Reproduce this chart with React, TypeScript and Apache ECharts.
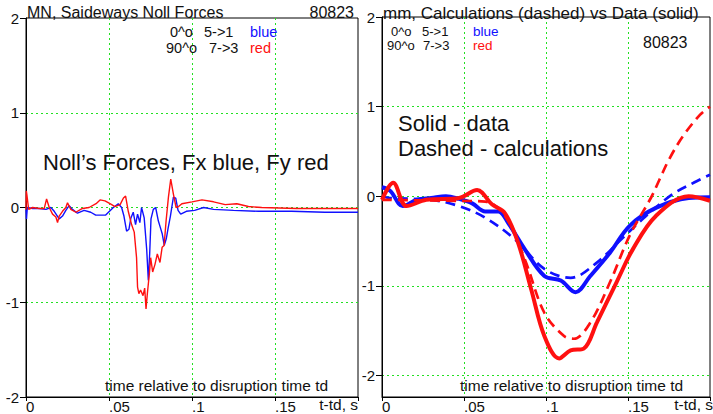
import React, { useEffect, useRef } from "react";
import * as echarts from "echarts";

// ---- ticks ----
const xTicks = [0, 0.05, 0.1, 0.15];
const xTickLabels = ["0", ".05", ".1", ".15"];
const yTicks = [-2, -1, 0, 1, 2];
const yTickLabels = ["-2", "-1", "0", "1", "2"];

// ---- left panel: Noll forces (MN) ----
const leftBlueT = [0, 0.0003, 0.0008, 0.004, 0.008, 0.012, 0.015, 0.017, 0.02, 0.022, 0.024, 0.026, 0.028, 0.031, 0.035, 0.039, 0.042, 0.045, 0.048, 0.0526, 0.0556, 0.0576, 0.059, 0.0606, 0.062, 0.0632, 0.0646, 0.066, 0.0672, 0.0686, 0.0696, 0.0712, 0.0727, 0.0737, 0.0745, 0.0753, 0.0767, 0.0781, 0.0797, 0.0809, 0.0821, 0.0833, 0.0845, 0.0857, 0.087, 0.0888, 0.0902, 0.0916, 0.0932, 0.0966, 0.1016, 0.107, 0.113, 0.125, 0.14, 0.16, 0.18, 0.2];
const leftBlueV = [-0.02, -0.12, 0.0, -0.01, -0.01, -0.02, 0.0, -0.04, -0.12, -0.09, -0.03, 0.02, -0.02, -0.06, -0.03, -0.05, -0.08, -0.08, -0.08, 0.0, 0.04, 0.0, -0.09, -0.25, -0.23, -0.11, -0.05, -0.18, -0.07, -0.16, 0.0, -0.11, -0.44, -0.77, -0.49, -0.12, -0.02, 0.0, -0.14, -0.21, -0.28, -0.4, -0.33, -0.21, -0.09, 0.11, 0.1, -0.03, -0.07, -0.04, -0.03, 0.0, -0.02, -0.03, -0.04, -0.04, -0.05, -0.05];
const leftRedT = [0, 0.0002, 0.0005, 0.0016, 0.004, 0.008, 0.011, 0.0124, 0.014, 0.016, 0.018, 0.019, 0.02, 0.022, 0.024, 0.025, 0.027, 0.03, 0.034, 0.038, 0.0422, 0.0446, 0.0476, 0.0506, 0.0536, 0.0567, 0.0587, 0.06, 0.0616, 0.0636, 0.0652, 0.0666, 0.0672, 0.068, 0.069, 0.0705, 0.0715, 0.0723, 0.0731, 0.0743, 0.0751, 0.0763, 0.0777, 0.0791, 0.0807, 0.082, 0.0832, 0.0844, 0.0858, 0.0872, 0.0888, 0.0904, 0.0919, 0.0939, 0.1, 0.106, 0.113, 0.12, 0.127, 0.134, 0.142, 0.163, 0.19, 0.2];
const leftRedV = [-0.02, 0.175, 0.14, -0.02, 0.0, -0.01, -0.01, 0.09, 0.0, -0.07, -0.1, -0.16, -0.09, -0.04, 0.0, 0.05, -0.02, -0.05, -0.01, 0.0, 0.04, 0.08, 0.07, 0.04, 0.01, 0.03, 0.1, 0.12, -0.04, -0.18, -0.26, -0.53, -0.84, -0.91, -0.87, -0.93, -0.85, -1.07, -0.91, -0.7, -0.53, -0.68, -0.6, -0.49, -0.58, -0.42, -0.4, -0.14, 0.11, 0.3, 0.14, 0.0, 0.01, 0.04, 0.06, 0.08, 0.06, 0.03, 0.04, 0.01, 0.0, -0.01, -0.01, -0.01];

// ---- right panel: displacement (mm), data solid, calculations dashed ----
const blueDataT = [0, 0.005, 0.0127, 0.021, 0.03, 0.039, 0.047, 0.055, 0.063, 0.071, 0.077, 0.087, 0.099, 0.109, 0.118, 0.127, 0.139, 0.151, 0.167, 0.187, 0.2];
const blueDataV = [0.1, 0.06, -0.11, -0.04, -0.02, 0.0, -0.03, -0.08, -0.17, -0.17, -0.3, -0.59, -0.89, -0.94, -1.07, -0.89, -0.63, -0.33, -0.13, -0.02, -0.01];
const blueCalcT = [0, 0.005, 0.03, 0.047, 0.063, 0.081, 0.099, 0.115, 0.131, 0.147, 0.161, 0.177, 0.19, 0.2];
const blueCalcV = [0.0, -0.02, -0.04, -0.11, -0.24, -0.48, -0.81, -0.91, -0.74, -0.46, -0.22, 0.02, 0.15, 0.24];
const redDataT = [0, 0.0068, 0.015, 0.027, 0.047, 0.058, 0.067, 0.075, 0.083, 0.091, 0.099, 0.108, 0.115, 0.123, 0.131, 0.143, 0.153, 0.167, 0.187, 0.2];
const redDataV = [-0.04, 0.15, -0.11, -0.04, -0.02, 0.07, -0.09, -0.19, -0.52, -1.04, -1.56, -1.81, -1.72, -1.7, -1.41, -0.96, -0.59, -0.22, 0.0, -0.05];
const redCalcT = [0, 0.04, 0.063, 0.075, 0.087, 0.099, 0.111, 0.117, 0.127, 0.139, 0.151, 0.1645, 0.1693, 0.175, 0.1835, 0.194, 0.2];
const redCalcV = [-0.04, -0.05, -0.06, -0.22, -0.7, -1.3, -1.56, -1.59, -1.41, -0.96, -0.44, 0.0, 0.19, 0.41, 0.67, 0.91, 1.0];

const BLUE = "#1010ff";
const RED = "#ff1010";
const GREEN = "#22e022";
const FONT = "Liberation Sans, Arial, sans-serif";
const TXT = "#111";

const pair = (t: number[], v: number[]) => t.map((x, i) => [x, v[i]]);

const xLabel = (val: number) => {
  const i = xTicks.findIndex((t) => Math.abs(t - val) < 1e-9);
  return i >= 0 ? xTickLabels[i] : "";
};
const yLabel = (val: number) => {
  const i = yTicks.findIndex((t) => Math.abs(t - val) < 1e-9);
  return i >= 0 ? yTickLabels[i] : "";
};

const makeX = (gridIndex: number) => ({
  type: "value",
  gridIndex,
  min: 0,
  max: 0.2,
  interval: 0.05,
  axisLine: { show: true, onZero: false, lineStyle: { color: "#000", width: 1 } },
  axisTick: { show: true, length: 4, lineStyle: { color: "#000" } },
  axisLabel: { formatter: xLabel, fontSize: 15, fontFamily: FONT, color: TXT, align: "left", margin: 2 },
  splitLine: { show: true, showMinLine: false, showMaxLine: false, lineStyle: { color: GREEN, type: [2, 3], width: 1 } },
});

const txt = (text: string, x: number, y: number, size: number, fill = TXT, align = "left") => ({
  type: "text",
  x,
  y,
  z: 10,
  style: { text, fontSize: size, fontFamily: FONT, fill, textAlign: align, textVerticalAlign: "middle" },
});

export default function App() {
  const ref = useRef<HTMLDivElement>(null);
  useEffect(() => {
    document.body.style.margin = "0";
    if (!ref.current) return;
    const chart = echarts.init(ref.current, null, { renderer: "svg" });
    chart.setOption({
      animation: false,
      backgroundColor: "#fff",
      grid: [
        { left: 26, top: 18, width: 332, height: 380, show: true, borderColor: "#000", borderWidth: 1 },
        { left: 382, top: 17, width: 332, height: 381, show: true, borderColor: "#000", borderWidth: 1 },
      ],
      xAxis: [makeX(0), makeX(1)],
      yAxis: [
        {
          type: "value",
          gridIndex: 0,
          min: -2,
          max: 2,
          interval: 1,
          axisLine: { show: true, onZero: false, lineStyle: { color: "#000" } },
          axisTick: { show: true, length: 6, lineStyle: { color: "#000" } },
          axisLabel: { formatter: yLabel, fontSize: 15, fontFamily: FONT, color: TXT, margin: 7, padding: [0, 0, 8, 0] },
          splitLine: { show: true, showMinLine: false, showMaxLine: false, lineStyle: { color: GREEN, type: [2, 3], width: 1 } },
        },
        {
          type: "value",
          gridIndex: 1,
          min: -2.24,
          max: 2,
          axisLine: { show: true, onZero: false, lineStyle: { color: "#000" } },
          axisTick: { show: true, length: 6, customValues: yTicks, lineStyle: { color: "#000" } },
          axisLabel: { formatter: yLabel, customValues: yTicks, fontSize: 15, fontFamily: FONT, color: TXT, margin: 7, padding: [0, 0, 8, 0] },
          splitLine: { show: true, showMinLine: true, showMaxLine: false, lineStyle: { color: GREEN, type: [2, 3], width: 1 } },
        },
      ],
      series: [
        { type: "line", xAxisIndex: 0, yAxisIndex: 0, data: pair(leftBlueT, leftBlueV), showSymbol: false, lineStyle: { color: BLUE, width: 1.4 } },
        { type: "line", xAxisIndex: 0, yAxisIndex: 0, data: pair(leftRedT, leftRedV), showSymbol: false, lineStyle: { color: RED, width: 1.4 } },
        { type: "line", xAxisIndex: 1, yAxisIndex: 1, data: pair(blueDataT, blueDataV), showSymbol: false, smooth: 0.35, lineStyle: { color: BLUE, width: 4 } },
        { type: "line", xAxisIndex: 1, yAxisIndex: 1, data: pair(blueCalcT, blueCalcV), showSymbol: false, smooth: 0.35, lineStyle: { color: BLUE, width: 2.7, type: [10, 6] } },
        { type: "line", xAxisIndex: 1, yAxisIndex: 1, data: pair(redDataT, redDataV), showSymbol: false, smooth: 0.35, lineStyle: { color: RED, width: 4 } },
        { type: "line", xAxisIndex: 1, yAxisIndex: 1, data: pair(redCalcT, redCalcV), showSymbol: false, smooth: 0.35, lineStyle: { color: RED, width: 2.7, type: [10, 6] } },
      ],
      graphic: [
        txt("MN, Saideways Noll Forces", 27, 12, 16),
        txt("80823", 354, 12, 16, TXT, "right"),
        txt("0^o", 170, 32, 14.5),
        txt("5->1", 204, 32, 14.5),
        txt("blue", 250, 32, 14.5, BLUE),
        txt("90^o", 166, 48, 14.5),
        txt("7->3", 209, 48, 14.5),
        txt("red", 250, 48, 14.5, RED),
        txt("Noll\u2019s Forces, Fx blue, Fy red", 43, 162, 22),
        txt("time relative to disruption time td", 105, 385, 15.5),
        txt("t-td, s", 358, 404, 15.5, TXT, "right"),
        txt("mm, Calculations (dashed) vs Data (solid)", 383, 13, 17),
        txt("0^o", 391, 31, 13),
        txt("5->1", 422, 31, 13),
        txt("blue", 473, 31, 13.5, BLUE),
        txt("90^o", 387, 45, 13),
        txt("7->3", 423, 45, 13),
        txt("red", 473, 45, 13.5, RED),
        txt("80823", 643, 42, 16),
        txt("Solid - data", 398, 123, 22),
        txt("Dashed - calculations", 398, 148, 22),
        txt("time relative to disruption time td", 460, 385, 15.5),
        txt("t-td, s", 713, 404, 15.5, TXT, "right"),
      ],
    });
    return () => chart.dispose();
  }, []);
  return <div ref={ref} style={{ position: "absolute", left: 0, top: 0, width: 713, height: 414 }} />;
}
